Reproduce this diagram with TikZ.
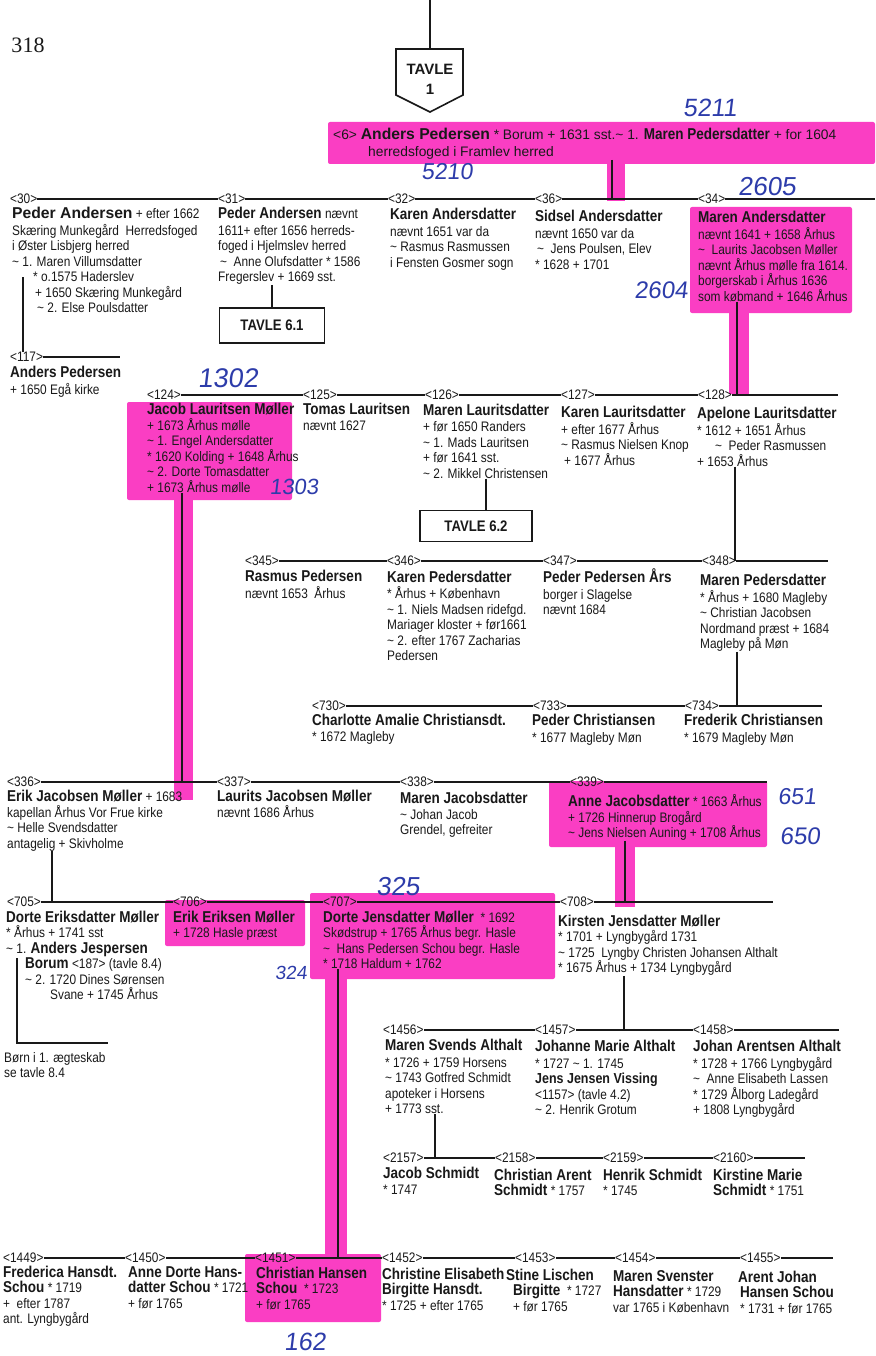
\documentclass[tikz,border=0pt]{standalone}
\usepackage{fontspec}
\setmainfont{Liberation Sans}[FakeStretch=0.86]
\newfontfamily\widefam{Liberation Sans}
\newfontfamily\handfam{Liberation Sans}[FakeSlant=0.12]
\newfontfamily\serfam{Liberation Serif}
\usetikzlibrary{calc}
\definecolor{hl}{RGB}{250,62,195}
\definecolor{pen}{RGB}{45,60,170}
\definecolor{ink}{RGB}{25,25,25}
\newcommand\bodyf{\fontsize{13.8}{15.5}\selectfont}
\newcommand\wbodyf{\widefam\fontsize{13.8}{15.5}\selectfont}
\newcommand\nm[1]{{\rmfamily\fontsize{15.7}{15.5}\selectfont\bfseries #1}}
\newcommand\wnm[1]{{\widefam\fontsize{15.7}{15.5}\selectfont\bfseries #1}}
\newcommand\sw{\textasciitilde}
\newcommand\tavf{\fontsize{15.3}{16}\selectfont\bfseries}
\newcommand\Pn[4]{\node[pp] (#1) at (#2,#3-13) {\rule{0pt}{13pt}#4};}
\newcommand\Lb[3]{\node[lab] (l#1) at (#2,#3) {<#1>};}
\newcommand\Hn[5]{\node[hand,font={\handfam\fontsize{#4}{#4}\selectfont}] (#1) at (#2,#3) {#5};}
\begin{document}
\begin{tikzpicture}[x=1pt,y=-1pt,
  pp/.style={anchor=north west, inner sep=0pt, align=left, font=\bodyf, text=ink},
  lab/.style={anchor=west, inner sep=0pt, font=\bodyf, text=ink},
  hline/.style={line width=1.3pt, draw=ink},
  conn/.style={line width=1.3pt, draw=ink},
  tbox/.style={draw=ink, line width=1.6pt, inner sep=0pt, font=\tavf, text=ink},
  hand/.style={text=pen, inner sep=0pt}
]
\useasboundingbox (0,0) rectangle (875,1356);
\fill[white] (0,0) rectangle (875,1356);

% ---------- highlighter ----------
\fill[hl, rounded corners=2pt] (328,122) rectangle (875,164);
\fill[hl] (607,160) rectangle (625,201);
\fill[hl, rounded corners=2pt] (690,207) rectangle (852,313);
\fill[hl] (729,310) rectangle (749,394);
\fill[hl, rounded corners=2pt] (127,402) rectangle (292,500);
\fill[hl] (174,497) rectangle (193,800);
\fill[hl, rounded corners=2pt] (549,781) rectangle (767,847);
\fill[hl] (615,845) rectangle (635,907);
\fill[hl, rounded corners=2pt] (165,900) rectangle (305,946);
\fill[hl, rounded corners=2pt] (310,893) rectangle (555,979);
\fill[hl] (325,975) rectangle (347,1258);
\fill[hl, rounded corners=2pt] (245,1254) rectangle (381,1322);

% ---------- page number and TAVLE 1 ----------
\node[inner sep=0pt, font={\serfam\fontsize{22}{22}\selectfont}, text=ink] (pg) at (28,45) {318};
\node[inner sep=0pt, font={\widefam\fontsize{15}{15}\selectfont\bfseries}, text=ink, anchor=base] (t1) at (430,75) {TAVLE};
\node[inner sep=0pt, font={\widefam\fontsize{15}{15}\selectfont\bfseries}, text=ink, anchor=base] (t1n) at (430,95) {1};
\coordinate (t1a) at (396,49); \coordinate (t1b) at (463,49);
\coordinate (t1c) at (463,95); \coordinate (t1d) at (430,112); \coordinate (t1e) at (396,95);
\coordinate (t1top) at (430,49); \coordinate (t1up) at (430,0);
\draw[line width=1.6pt, draw=ink, line join=miter] (t1a) -- (t1b) -- (t1c) -- (t1d) -- (t1e) -- cycle;
\draw[conn] (t1up) -- (t1top);

% ---------- row 0 ----------
\node[pp, font=\wbodyf] (p6) at (333,126) {\rule{0pt}{13pt}<6> \wnm{Anders Pedersen} * Borum + 1631 sst.\sw\ 1. \nm{Maren Pedersdatter} + for 1604\\[2pt]\hspace*{35pt}herredsfoged i Framlev herred};

% ---------- row 1 ----------
\Lb{30}{10}{199} \Lb{31}{218}{199} \Lb{32}{388}{199} \Lb{36}{535}{199} \Lb{34}{698}{199}
\coordinate (e1) at (875,199);
\Pn{p30}{12}{218}{\wnm{Peder Andersen} + efter 1662\\[1.5pt]Skæring Munkegård\ \ Herredsfoged\\i Øster Lisbjerg herred\\\sw\ 1. Maren Villumsdatter\\\hspace*{21pt}* o.1575 Haderslev\\\hspace*{23pt}+ 1650 Skæring Munkegård\\\hspace*{25pt}\sw\ 2. Else Poulsdatter}
\Pn{p31}{218}{218}{\nm{Peder Andersen} nævnt\\[1.5pt]1611+ efter 1656 herreds-\\foged i Hjelmslev herred\\\hspace*{2pt}\sw\ \ Anne Olufsdatter * 1586\\Fregerslev + 1669 sst.}
\Pn{p32}{390}{219}{\nm{Karen Andersdatter}\\[1.5pt]nævnt 1651 var da\\\sw\ Rasmus Rasmussen\\i Fensten Gosmer sogn}
\Pn{p36}{535}{221}{\nm{Sidsel Andersdatter}\\[1.5pt]nævnt 1650 var da\\\hspace*{2pt}\sw\ \ Jens Poulsen, Elev\\* 1628 + 1701}
\Pn{p34}{698}{222}{\nm{Maren Andersdatter}\\[1.5pt]nævnt 1641 + 1658 Århus\\\sw\ \ Laurits Jacobsen Møller\\nævnt Århus mølle fra 1614.\\borgerskab i Århus 1636\\som købmand + 1646 Århus}
\node[tbox, minimum width=105pt, minimum height=35pt] (t61) at (272,325.5) {TAVLE 6.1};
\Lb{117}{10}{357}
\coordinate (e117) at (120,357);
\Pn{p117}{10}{377}{\nm{Anders Pedersen}\\[1.5pt]+ 1650 Egå kirke}

% ---------- row 2 ----------
\Lb{124}{147}{395} \Lb{125}{303}{395} \Lb{126}{425}{395} \Lb{127}{561}{395} \Lb{128}{698}{395}
\coordinate (e2) at (838,395);
\Pn{p124}{147}{414}{\nm{Jacob Lauritsen Møller}\\[0.5pt]+ 1673 Århus mølle\\\sw\ 1. Engel Andersdatter\\* 1620 Kolding + 1648 Århus\\\sw\ 2. Dorte Tomasdatter\\+ 1673 Århus mølle}
\Pn{p125}{303}{414}{\nm{Tomas Lauritsen}\\[1pt]nævnt 1627}
\Pn{p126}{423}{415}{\nm{Maren Lauritsdatter}\\[1pt]+ før 1650 Randers\\\sw\ 1. Mads Lauritsen\\+ før 1641 sst.\\\sw\ 2. Mikkel Christensen}
\Pn{p127}{561}{417}{\nm{Karen Lauritsdatter}\\[1.5pt]+ efter 1677 Århus\\\sw\ Rasmus Nielsen Knop\\\hspace*{3pt}+ 1677 Århus}
\Pn{p128}{697}{418}{\nm{Apelone Lauritsdatter}\\[1.5pt]* 1612 + 1651 Århus\\\hspace*{18pt}\sw\ \ Peder Rasmussen\\+ 1653 Århus}
\node[tbox, minimum width=112pt, minimum height=31pt] (t62) at (476,526) {TAVLE 6.2};

% ---------- row 3 ----------
\Lb{345}{245}{561} \Lb{346}{387}{561} \Lb{347}{543}{561} \Lb{348}{702}{561}
\coordinate (e3) at (828,561);
\Pn{p345}{245}{581}{\nm{Rasmus Pedersen}\\[1.5pt]nævnt 1653\ \ Århus}
\Pn{p346}{387}{582}{\nm{Karen Pedersdatter}\\[1pt]* Århus + København\\\sw\ 1. Niels Madsen ridefgd.\\Mariager kloster + før1661\\\sw\ 2. efter 1767 Zacharias\\Pedersen}
\Pn{p347}{543}{581.5}{\nm{Peder Pedersen Års}\\[1pt]borger i Slagelse\\nævnt 1684}
\Pn{p348}{700}{585}{\nm{Maren Pedersdatter}\\[1.5pt]* Århus + 1680 Magleby\\\sw\ Christian Jacobsen\\Nordmand præst + 1684\\Magleby på Møn}

% ---------- row 4 ----------
\Lb{730}{312}{706} \Lb{733}{533}{706} \Lb{734}{685}{706}
\coordinate (e4) at (822,706);
\Pn{p730}{312}{725}{\nm{Charlotte Amalie Christiansdt.}\\[1pt]* 1672 Magleby}
\Pn{p733}{532}{725}{\nm{Peder Christiansen}\\[1.5pt]* 1677 Magleby Møn}
\Pn{p734}{684}{725}{\nm{Frederik Christiansen}\\[1.5pt]* 1679 Magleby Møn}

% ---------- row 5 ----------
\Lb{336}{7}{782} \Lb{337}{217}{782} \Lb{338}{400}{782} \Lb{339}{570}{782}
\coordinate (e5) at (767,782);
\Pn{p336}{7}{801}{\nm{Erik Jacobsen Møller} + 1683\\[0.5pt]kapellan Århus Vor Frue kirke\\\sw\ Helle Svendsdatter\\antagelig + Skivholme}
\Pn{p337}{217}{801}{\nm{Laurits Jacobsen Møller}\\[0.5pt]nævnt 1686 Århus}
\Pn{p338}{400}{803}{\nm{Maren Jacobsdatter}\\[0.5pt]\sw\ Johan Jacob\\Grendel, gefreiter}
\Pn{p339}{568}{806}{\nm{Anne Jacobsdatter} * 1663 Århus\\[0.5pt]+ 1726 Hinnerup Brogård\\\sw\ Jens Nielsen Auning + 1708 Århus}

% ---------- row 6 ----------
\Lb{705}{7}{902} \Lb{706}{173}{902} \Lb{707}{323}{902} \Lb{708}{560}{902}
\coordinate (e6) at (773,902);
\Pn{p705}{6}{922}{\nm{Dorte Eriksdatter Møller}\\[0pt]* Århus + 1741 sst\\\sw\ 1. \nm{Anders Jespersen}\\\hspace*{19pt}\nm{Borum} <187> (tavle 8.4)\\\hspace*{19pt}\sw\ 2. 1720 Dines Sørensen\\\hspace*{44pt}Svane + 1745 Århus}
\Pn{p706}{173}{922}{\nm{Erik Eriksen Møller}\\[0pt]+ 1728 Hasle præst}
\Pn{p707}{323}{922}{\nm{Dorte Jensdatter Møller}\ \ * 1692\\[0pt]Skødstrup + 1765 Århus begr. Hasle\\\sw\ \ Hans Pedersen Schou begr. Hasle\\* 1718 Haldum + 1762}
\Pn{p708}{558}{926}{\nm{Kirsten Jensdatter Møller}\\[0pt]* 1701 + Lyngbygård 1731\\\sw\ 1725\ \ Lyngby Christen Johansen Althalt\\* 1675 Århus + 1734 Lyngbygård}
\Pn{pb}{4}{1062}{Børn i 1. ægteskab\\se tavle 8.4}

% ---------- row 7 ----------
\Lb{1456}{383}{1030} \Lb{1457}{535}{1030} \Lb{1458}{693}{1030}
\coordinate (e7) at (839,1030);
\Pn{p1456}{385}{1050}{\nm{Maren Svends Althalt}\\[1.5pt]* 1726 + 1759 Horsens\\\sw\ 1743 Gotfred Schmidt\\apoteker i Horsens\\+ 1773 sst.}
\Pn{p1457}{535}{1051}{\nm{Johanne Marie Althalt}\\[1.5pt]* 1727 \sw\ 1. 1745\\{\fontsize{14.5}{15}\selectfont\bfseries Jens Jensen Vissing}\\<1157> (tavle 4.2)\\\sw\ 2. Henrik Grotum}
\Pn{p1458}{693}{1051}{\nm{Johan Arentsen Althalt}\\[1.5pt]* 1728 + 1766 Lyngbygård\\\sw\ \ Anne Elisabeth Lassen\\* 1729 Ålborg Ladegård\\+ 1808 Lyngbygård}

% ---------- row 8 ----------
\Lb{2157}{383}{1158} \Lb{2158}{495}{1158} \Lb{2159}{603}{1158} \Lb{2160}{713}{1158}
\coordinate (e8) at (805,1158);
\Pn{p2157}{383}{1178}{\nm{Jacob Schmidt}\\[0.5pt]* 1747}
\Pn{p2158}{494}{1180}{\nm{Christian Arent}\\\nm{Schmidt} * 1757}
\Pn{p2159}{603}{1180}{\nm{Henrik Schmidt}\\* 1745}
\Pn{p2160}{713}{1180}{\nm{Kirstine Marie}\\\nm{Schmidt} * 1751}

% ---------- row 9 ----------
\Lb{1449}{3}{1258} \Lb{1450}{125}{1258} \Lb{1451}{255}{1258} \Lb{1452}{382}{1258}
\Lb{1453}{515}{1258} \Lb{1454}{615}{1258} \Lb{1455}{740}{1258}
\coordinate (e9) at (833,1258);
\Pn{p1449}{3}{1277}{\nm{Frederica Hansdt.}\\\nm{Schou} * 1719\\+\ \ efter 1787\\ant. Lyngbygård}
\Pn{p1450}{128}{1277}{\nm{Anne Dorte Hans-}\\\nm{datter Schou} * 1721\\+ før 1765}
\Pn{p1451}{256}{1278}{\nm{Christian Hansen}\\\nm{Schou}\ \ * 1723\\+ før 1765}
\Pn{p1452}{382}{1279}{\nm{Christine Elisabeth}\\\nm{Birgitte Hansdt.}\\* 1725 + efter 1765}
\Pn{p1453}{506}{1280}{\nm{Stine Lischen}\\\hspace*{7pt}\nm{Birgitte}\ \ * 1727\\\hspace*{7pt}+ før 1765}
\Pn{p1454}{613}{1281}{\nm{Maren Svenster}\\\nm{Hansdatter} * 1729\\var 1765 i København}
\Pn{p1455}{738}{1282}{\nm{Arent Johan}\\\hspace*{2pt}\nm{Hansen Schou}\\\hspace*{2pt}* 1731 + før 1765}

% ---------- handwritten numbers ----------
\Hn{h5211}{710}{108}{25}{5211}
\Hn{h5210}{447}{172}{23}{5210}
\Hn{h2605}{767}{187}{26}{2605}
\Hn{h2604}{661}{290}{24}{2604}
\Hn{h1302}{228}{378}{27}{1302}
\Hn{h1303}{294}{487}{22}{1303}
\Hn{h651}{797}{797}{23}{651}
\Hn{h650}{800}{836}{24}{650}
\Hn{h325}{398}{887}{26}{325}
\Hn{h324}{291}{973}{19}{324}
\Hn{h162}{305}{1342}{25}{162}

% ---------- horizontal sibling lines ----------
\draw[hline] (l30)--(l31) (l31)--(l32) (l32)--(l36) (l36)--(l34) (l34)--(e1);
\draw[hline] (l117)--(e117);
\draw[hline] (l124)--(l125) (l125)--(l126) (l126)--(l127) (l127)--(l128) (l128)--(e2);
\draw[hline] (l345)--(l346) (l346)--(l347) (l347)--(l348) (l348)--(e3);
\draw[hline] (l730)--(l733) (l733)--(l734) (l734)--(e4);
\draw[hline] (l336)--(l337) (l337)--(l338) (l338)--(l339) (l339)--(e5);
\draw[hline] (l705)--(l706) (l706)--(l707) (l707)--(l708) (l708)--(e6);
\draw[hline] (l1456)--(l1457) (l1457)--(l1458) (l1458)--(e7);
\draw[hline] (l2157)--(l2158) (l2158)--(l2159) (l2159)--(l2160) (l2160)--(e8);
\draw[hline] (l1449)--(l1450) (l1450)--(l1451) (l1451)--(l1452) (l1452)--(l1453) (l1453)--(l1454) (l1454)--(l1455) (l1455)--(e9);

% ---------- descent connectors ----------
\coordinate (j1) at (612,199);  \draw[conn] (p6.south -| j1) -- (j1);
\coordinate (a30) at (23,277);  \draw[conn] (a30) -- (a30 |- l117.north);
\draw[conn] (p31.south -| t61.north) -- (t61.north);
\coordinate (j2) at (737,395);  \draw[conn] (p34.south -| j2) -- (j2);
\coordinate (c62) at (486,510.5); \draw[conn] (p126.south -| c62) -- (c62);
\coordinate (j3) at (735,561);  \draw[conn] (p128.south -| j3) -- (j3);
\coordinate (j4) at (737,706);  \draw[conn] (p348.south -| j4) -- (j4);
\coordinate (j5) at (182,782);  \draw[conn] (p124.south -| j5) -- (j5);
\coordinate (j6) at (625,902);  \draw[conn] (p339.south -| j6) -- (j6);
\coordinate (j6a) at (52,902);  \draw[conn] (p336.south -| j6a) -- (j6a);
\coordinate (d1) at (17,958); \coordinate (d2) at (17,1043); \coordinate (d3) at (108,1043);
\draw[conn] (d1) -- (d2) -- (d3);
\coordinate (j7) at (624,1030); \draw[conn] (p708.south -| j7) -- (j7);
\coordinate (j9) at (338,1258); \draw[conn] (p707.south -| j9) -- (j9);
\coordinate (j8) at (435,1158); \draw[conn] (p1456.south -| j8) -- (j8);
\end{tikzpicture}
\end{document}
